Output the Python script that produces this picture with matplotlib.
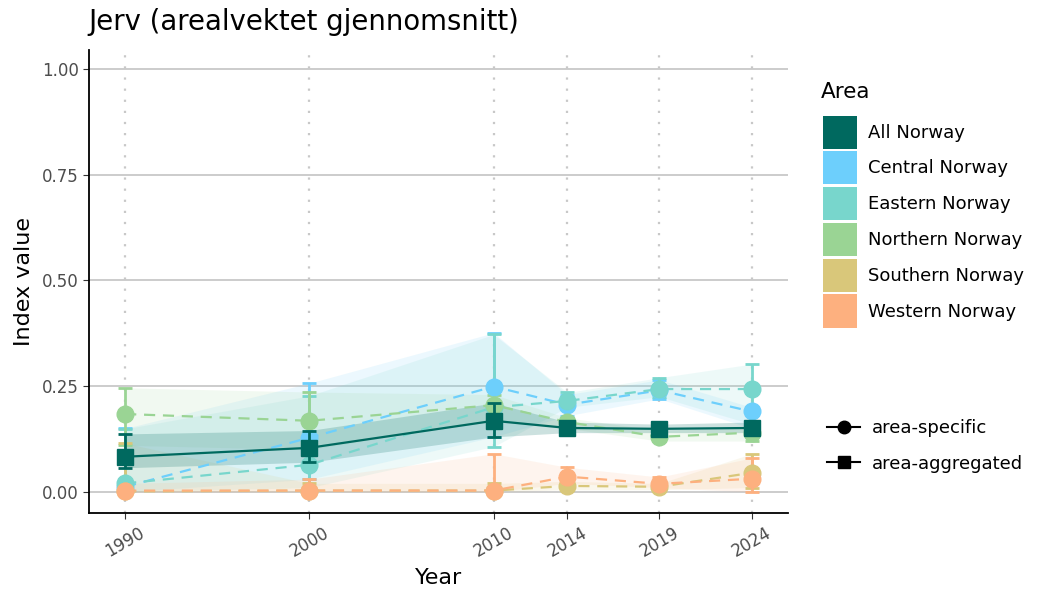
import numpy as np
import matplotlib
matplotlib.use('Agg')
import matplotlib.pyplot as plt
from matplotlib.patches import Patch
from matplotlib.lines import Line2D

years = [1990, 2000, 2010, 2014, 2019, 2024]

areas = ['All Norway', 'Central Norway', 'Eastern Norway',
         'Northern Norway', 'Southern Norway', 'Western Norway']
colors = ['#00695F', '#6DCFFC', '#78D6CC', '#9AD494', '#D9C77A', '#FDB07F']

all_val = [0.083, 0.104, 0.168, 0.151, 0.149, 0.151]
all_low = [0.057, 0.070, 0.130, 0.140, 0.140, 0.140]
all_up = [0.137, 0.145, 0.210, 0.165, 0.160, 0.165]

central_val = [0.012, 0.128, 0.249, 0.206, 0.240, 0.190]
central_low = [0.000, 0.030, 0.130, 0.180, 0.220, 0.150]
central_up = [0.150, 0.257, 0.376, 0.230, 0.265, 0.200]

eastern_val = [0.020, 0.064, 0.200, 0.215, 0.243, 0.243]
eastern_low = [0.000, 0.010, 0.107, 0.200, 0.225, 0.160]
eastern_up = [0.149, 0.227, 0.372, 0.235, 0.270, 0.302]

northern_val = [0.184, 0.168, 0.205, 0.165, 0.130, 0.140]
northern_low = [0.110, 0.100, 0.170, 0.150, 0.120, 0.120]
northern_up = [0.246, 0.236, 0.230, 0.175, 0.145, 0.155]

southern_val = [0.001, 0.003, 0.003, 0.014, 0.012, 0.045]
southern_low = [0.000, 0.000, 0.000, 0.005, 0.005, 0.010]
southern_up = [0.115, 0.020, 0.020, 0.025, 0.020, 0.090]

western_val = [0.003, 0.003, 0.003, 0.036, 0.019, 0.031]
western_low = [0.000, 0.000, 0.000, 0.020, 0.010, 0.000]
western_up = [0.020, 0.030, 0.090, 0.058, 0.035, 0.080]

specific = [
    (central_val, central_low, central_up, colors[1]),
    (eastern_val, eastern_low, eastern_up, colors[2]),
    (northern_val, northern_low, northern_up, colors[3]),
    (southern_val, southern_low, southern_up, colors[4]),
    (western_val, western_low, western_up, colors[5]),
]

fig = plt.figure(figsize=(10.5, 6), dpi=100)
ax = fig.add_axes([0.085, 0.145, 0.665, 0.772])

for yv in [0, 0.25, 0.5, 0.75, 1.0]:
    ax.axhline(yv, color='#CCCCCC', lw=1.4, zorder=0)
for x in years:
    ax.axvline(x, color='#C8C8C8', lw=1.6, ls=(0, (1, 4)), zorder=0)

# ribbons
for val, lo, up, c in specific:
    ax.fill_between(years, lo, up, color=c, alpha=0.13, lw=0, zorder=1)
ax.fill_between(years, all_low, all_up, color=colors[0], alpha=0.2, lw=0, zorder=1)

# area-specific
for val, lo, up, c in specific:
    v = np.array(val)
    err = [v - np.array(lo), np.array(up) - v]
    ax.errorbar(years, val, yerr=err, fmt='none', ecolor=c, elinewidth=2,
                capsize=5, capthick=2, zorder=2)
    ax.plot(years, val, color=c, lw=1.6, ls=(0, (5, 3.5)), zorder=3)
    ax.plot(years, val, 'o', color=c, ms=12, mec=c, zorder=4)

# aggregated
v = np.array(all_val)
ax.errorbar(years, all_val, yerr=[v - np.array(all_low), np.array(all_up) - v],
            fmt='none', ecolor=colors[0], elinewidth=2, capsize=5, capthick=2, zorder=5)
ax.plot(years, all_val, color=colors[0], lw=1.6, zorder=6)
ax.plot(years, all_val, 's', color=colors[0], ms=11.5, zorder=7)

ax.set_xlim(1988.05, 2025.95)
ax.set_ylim(-0.05, 1.045)
ax.set_xticks(years)
ax.set_xticklabels([str(y) for y in years], rotation=30, fontsize=12, color='#4D4D4D')
ax.set_yticks([0, 0.25, 0.5, 0.75, 1.0])
ax.set_yticklabels(['0.00', '0.25', '0.50', '0.75', '1.00'], fontsize=12, color='#4D4D4D')
ax.tick_params(length=4, color='#333333')
for s in ['top', 'right']:
    ax.spines[s].set_visible(False)
for s in ['left', 'bottom']:
    ax.spines[s].set_linewidth(1.3)
ax.set_xlabel('Year', fontsize=16, labelpad=6)
ax.set_ylabel('Index value', fontsize=16, labelpad=6)
fig.text(0.084, 0.95, 'Jerv (arealvektet gjennomsnitt)', fontsize=19.8)

fig.text(0.782, 1 - 92 / 600, 'Area', fontsize=15.5, va='center')
handles = [Patch(facecolor=c, edgecolor='none') for c in colors]
fig.legend(handles, areas, loc='upper left',
           bbox_to_anchor=(0.772, 1 - 103 / 600), frameon=False, fontsize=13,
           handlelength=1.85, handleheight=2.44, borderaxespad=0.3,
           labelspacing=0.15, handletextpad=0.65)
shape_handles = [Line2D([], [], color='black', marker='o', ms=9, lw=1.5),
                 Line2D([], [], color='black', marker='s', ms=9, lw=1.5)]
fig.legend(shape_handles, ['area-specific', 'area-aggregated'], loc='upper left',
           bbox_to_anchor=(0.772, 0.328), frameon=False, fontsize=13,
           handlelength=1.85, labelspacing=0.95, handletextpad=0.65)

fig.savefig('out.png', dpi=100)
